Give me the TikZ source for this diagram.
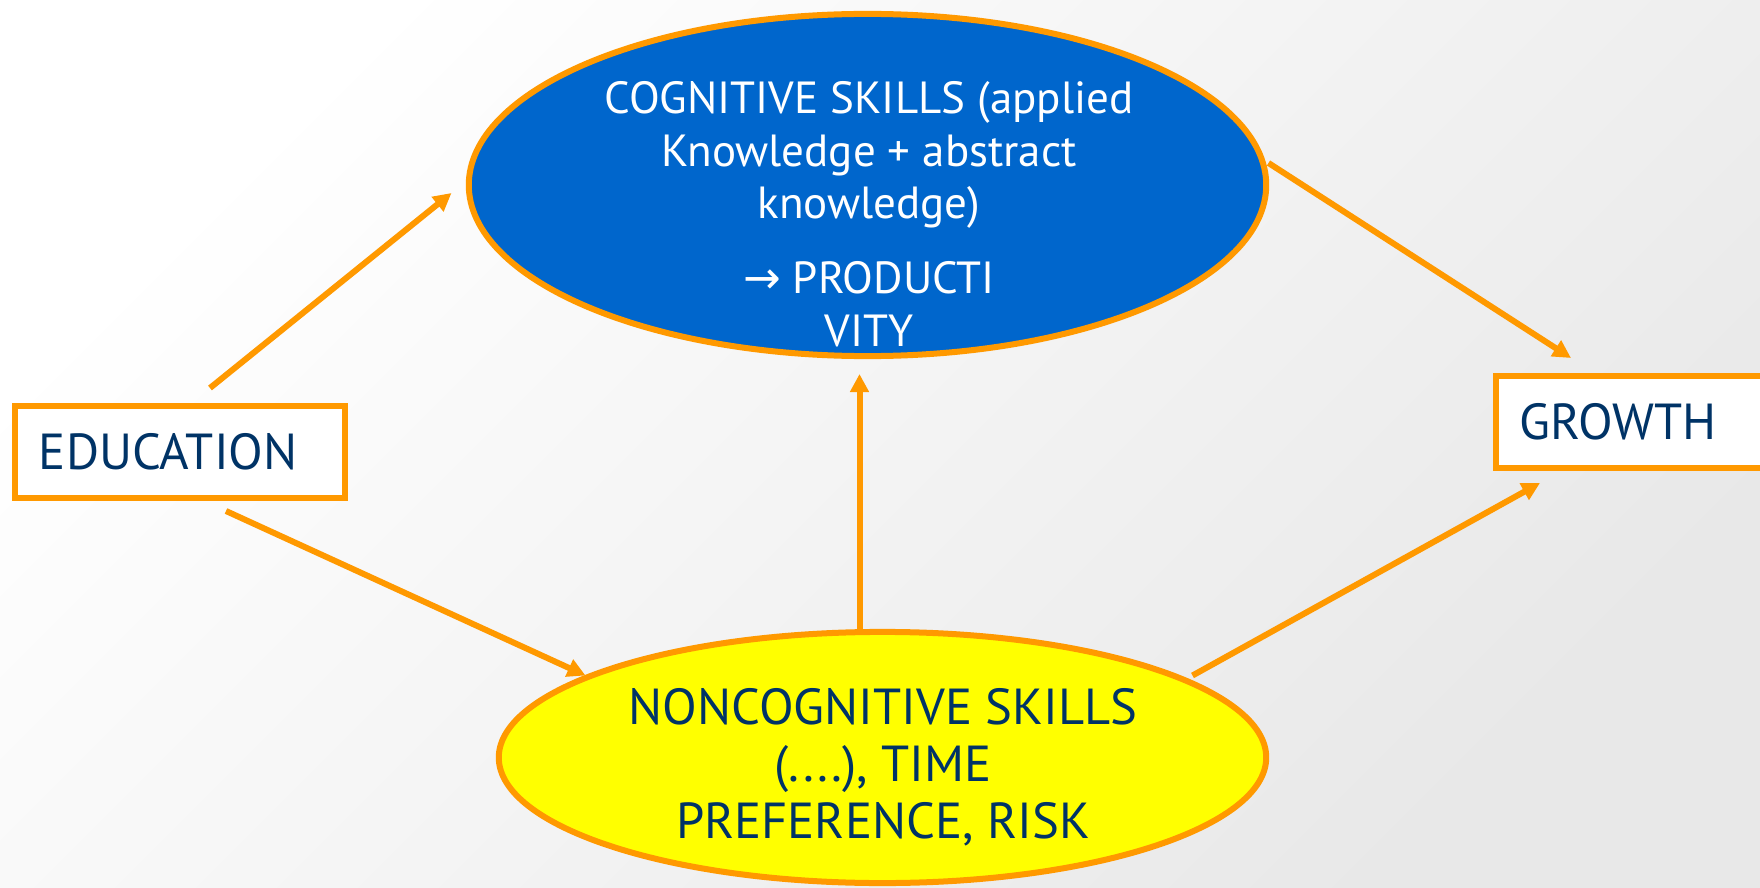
\documentclass[tikz,border=0pt]{standalone}
\usepackage{fontspec}
\setmainfont{PT Sans}
\newfontfamily\arrowfont{DejaVu Sans}
\usetikzlibrary{shapes.geometric,arrows.meta}
\definecolor{skyblue}{HTML}{0066CC}
\definecolor{amber}{HTML}{FF9900}
\definecolor{navy}{HTML}{003366}
\definecolor{lemon}{HTML}{FFFF00}
\tikzset{
  skillell/.style={ellipse, draw=amber, line width=0.06cm, inner sep=0pt},
  labelbox/.style={rectangle, draw=amber, fill=white, line width=0.06cm, minimum height=0.92cm,
    inner xsep=0.24cm, inner ysep=0pt, text=navy, font=\fontsize{14.4}{17}\selectfont, align=left},
  link/.style={draw=amber, line width=0.06cm, -{Triangle[length=0.18cm,width=0.18cm]}}
}
\begin{document}
\begin{tikzpicture}[x=0.01cm, y=-0.01cm]
    \useasboundingbox (0,0) rectangle (1760,888);
    \clip (0,0) rectangle (1760,888);
    \shade[top color=white, bottom color=black!9, shading angle=45] (0,0) rectangle (1760,888);
    % the two skill ellipses
    \node[skillell, fill=skyblue, minimum width=7.97cm, minimum height=3.42cm] (cog) at (867.5,185) {};
    \node[text=white, align=center, font=\fontsize{12.8}{15}\selectfont] (cogtext) at (869,214)
        {COGNITIVE SKILLS (applied\\Knowledge + abstract\\knowledge)\\[0.22cm]{\arrowfont →} PRODUCTI\\VITY};
    \node[skillell, fill=lemon, minimum width=7.67cm, minimum height=2.51cm] (noncog) at (882.5,757.5) {};
    \node[text=navy, align=center, font=\fontsize{14.4}{16.2}\selectfont] (noncogtext) at (883,767)
        {NONCOGNITIVE SKILLS\\(....), TIME\\PREFERENCE, RISK};
    % boxes
    \node[labelbox, text width=2.82cm] (edu) at (180,452) {EDUCATION};
    \node[labelbox, text width=2.56cm] (growth) at (1648,422) {GROWTH};
    % arrows
    \draw[link] ([shift={(30,-64)}]edu.center) -- ([shift={(-416,8)}]cog.center);
    \draw[link] ([shift={(46,59)}]edu.center) -- ([shift={(-297,-82)}]noncog.center);
    \draw[link] ([shift={(-23,-129)}]noncog.center) -- ([shift={(-8,189)}]cog.center);
    \draw[link] ([shift={(401,-22)}]cog.center) -- ([shift={(-77,-64)}]growth.center);
    \draw[link] ([shift={(310,-82)}]noncog.center) -- ([shift={(-108,61)}]growth.center);
\end{tikzpicture}
\end{document}
